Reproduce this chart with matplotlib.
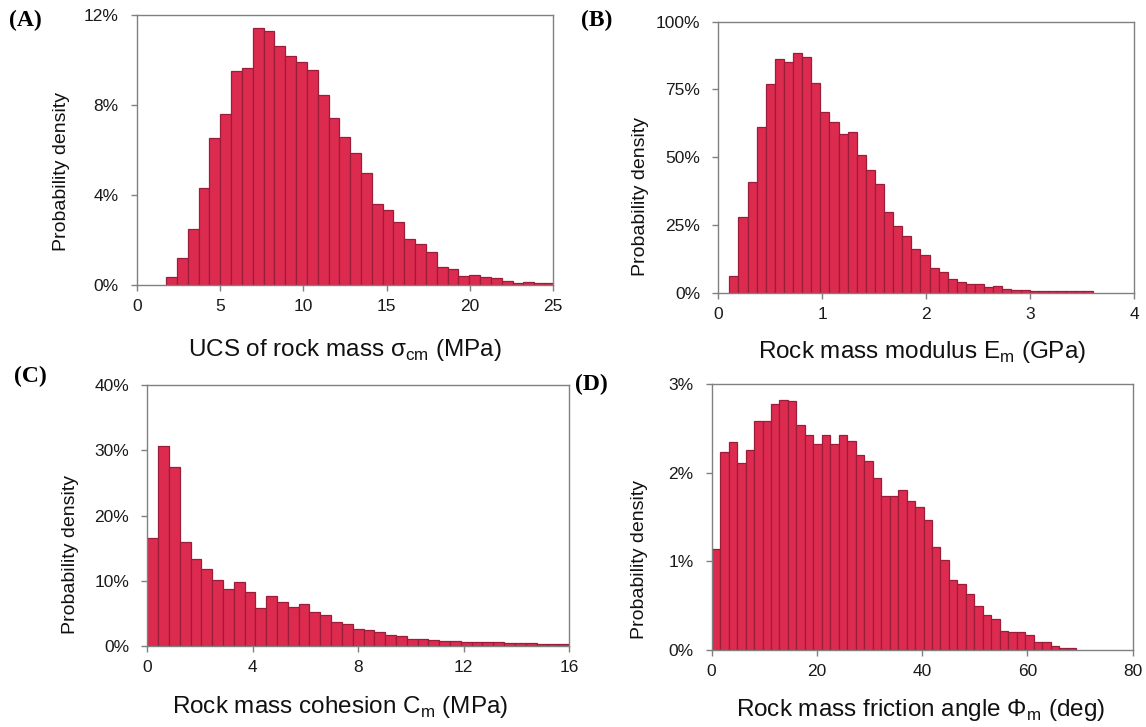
import numpy as np
import matplotlib
matplotlib.use("Agg")
import matplotlib.pyplot as plt
from matplotlib.ticker import FuncFormatter

plt.rcParams['font.family'] = ['Liberation Sans', 'DejaVu Sans']

# ---- data (probability density, %) ----
# (A) UCS of rock mass
ucs_start, ucs_width = 1.76, 0.65
ucs_density = [0.37, 1.19, 2.49, 4.30, 6.52, 7.60, 9.53, 9.63, 11.41, 11.29,
               10.62, 10.18, 9.93, 9.56, 8.43, 7.44, 6.59, 5.85, 4.96, 3.59,
               3.33, 2.79, 2.04, 1.81, 1.48, 0.79, 0.73, 0.41, 0.46, 0.37,
               0.30, 0.19, 0.10, 0.13, 0.10, 0.10]

# (B) rock mass modulus
mod_start, mod_width = 0.106, 0.0875
mod_density = [6.2, 27.9, 41.0, 61.3, 77.0, 86.1, 85.0, 88.3, 86.8, 77.2,
               66.8, 63.1, 58.5, 59.2, 50.8, 45.3, 40.0, 29.9, 24.6, 20.9,
               16.2, 13.8, 9.2, 7.6, 5.2, 3.9, 3.1, 3.1, 2.0, 2.3,
               1.4, 0.9, 0.9, 0.6, 0.6, 0.5, 0.5, 0.6, 0.6, 0.6]

# (C) rock mass cohesion
coh_start, coh_width = 0.0, 0.41
coh_density = [16.6, 30.7, 27.5, 15.9, 13.4, 11.8, 10.1, 8.8, 9.8, 8.3,
               5.8, 7.6, 6.7, 6.0, 6.4, 5.2, 4.8, 3.7, 3.4, 2.6,
               2.4, 2.2, 1.7, 1.5, 1.1, 1.0, 0.9, 0.8, 0.7, 0.6,
               0.56, 0.56, 0.6, 0.4, 0.4, 0.4, 0.3, 0.3, 0.25]

# (D) rock mass friction angle
fri_start, fri_width = 0.0, 1.61
fri_density = [1.14, 2.23, 2.35, 2.11, 2.26, 2.58, 2.58, 2.77, 2.82, 2.81,
               2.54, 2.42, 2.32, 2.42, 2.32, 2.43, 2.36, 2.20, 2.13, 1.94,
               1.74, 1.74, 1.80, 1.68, 1.61, 1.47, 1.16, 1.02, 0.79, 0.75,
               0.63, 0.50, 0.40, 0.35, 0.21, 0.20, 0.20, 0.17, 0.09, 0.09,
               0.04, 0.02, 0.02]

panels = [
    dict(tag='(A)', start=ucs_start, width=ucs_width, dens=ucs_density,
         xlim=25, xticks=[0, 5, 10, 15, 20, 25], ylim=12, yticks=[0, 4, 8, 12],
         xlabel='UCS of rock mass σ$_\\mathregular{cm}$ (MPa)',
         rect=[0.1193, 0.608, 0.3635, 0.3714], xl=(0.5, -0.24), yl=(-0.18, 0.42),
         tagpos=(0.008, 0.972)),
    dict(tag='(B)', start=mod_start, width=mod_width, dens=mod_density,
         xlim=4, xticks=[0, 1, 2, 3, 4], ylim=100, yticks=[0, 25, 50, 75, 100],
         xlabel='Rock mass modulus E$_\\mathregular{m}$ (GPa)',
         rect=[0.6268, 0.5974, 0.363, 0.3728], xl=(0.49, -0.218), yl=(-0.1875, 0.355),
         tagpos=(0.507, 0.972)),
    dict(tag='(C)', start=coh_start, width=coh_width, dens=coh_density,
         xlim=16, xticks=[0, 4, 8, 12, 16], ylim=40, yticks=[0, 10, 20, 30, 40],
         xlabel='Rock mass cohesion C$_\\mathregular{m}$ (MPa)',
         rect=[0.1285, 0.1114, 0.3682, 0.359], xl=(0.457, -0.234), yl=(-0.1825, 0.35),
         tagpos=(0.012, 0.482)),
    dict(tag='(D)', start=fri_start, width=fri_width, dens=fri_density,
         xlim=80, xticks=[0, 20, 40, 60, 80], ylim=3, yticks=[0, 1, 2, 3],
         xlabel='Rock mass friction angle Φ$_\\mathregular{m}$ (deg)',
         rect=[0.621, 0.1059, 0.3674, 0.3659], xl=(0.495, -0.226), yl=(-0.171, 0.34),
         tagpos=(0.502, 0.471)),
]

fig = plt.figure(figsize=(11.46, 7.27), dpi=100)

for p in panels:
    ax = fig.add_axes(p['rect'])
    n = len(p['dens'])
    left_edges = p['start'] + p['width'] * np.arange(n)
    ax.bar(left_edges, p['dens'], width=p['width'], align='edge',
           color='#DD2B50', edgecolor='#9A1D3A', linewidth=0.9)
    ax.set_xlim(0, p['xlim'])
    ax.set_ylim(0, p['ylim'])
    ax.set_xticks(p['xticks'])
    ax.set_yticks(p['yticks'])
    ax.yaxis.set_major_formatter(FuncFormatter(lambda v, pos: '%d%%' % round(v)))
    for s in ax.spines.values():
        s.set_color('#808080')
        s.set_linewidth(1.0)
    ax.tick_params(axis='both', colors='#808080', labelcolor='#1a1a1a',
                   labelsize=12.5, length=4, width=1.0)
    ax.tick_params(axis='y', pad=9)
    ax.tick_params(axis='x', pad=6)

    ax.set_xlabel(p['xlabel'], fontsize=17.5, color='#111111')
    ax.xaxis.label.set_va('center')
    ax.xaxis.set_label_coords(*p['xl'])
    ax.set_ylabel('Probability density', fontsize=14, color='#111111')
    ax.yaxis.label.set_va('center')
    ax.yaxis.set_label_coords(*p['yl'])

    fig.text(p['tagpos'][0], p['tagpos'][1], p['tag'], family='Liberation Serif',
             fontweight='bold', fontsize=17, va='center', ha='left')

fig.savefig('out.png', dpi=100)
